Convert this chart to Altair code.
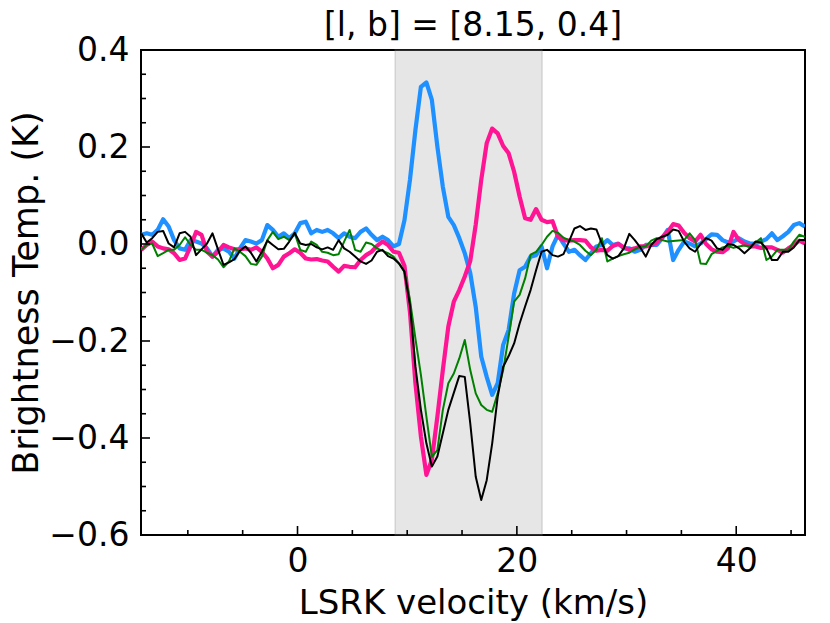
import altair as alt
import pandas as pd

# ---------------- data ----------------
velocity = [-14.25, -13.75, -13.25, -12.75, -12.25, -11.75, -11.25, -10.75, -10.25, -9.75,
            -9.25, -8.75, -8.25, -7.75, -7.25, -6.75, -6.25, -5.75, -5.25, -4.75,
            -4.25, -3.75, -3.25, -2.75, -2.25, -1.75, -1.25, -0.75, -0.25, 0.25,
            0.75, 1.25, 1.75, 2.25, 2.75, 3.25, 3.75, 4.25, 4.75, 5.25,
            5.75, 6.25, 6.75, 7.25, 7.75, 8.25, 8.75, 9.25, 9.75, 10.25,
            10.75, 11.25, 11.75, 12.25, 12.75, 13.25, 13.75, 14.25, 14.75, 15.25,
            15.75, 16.25, 16.75, 17.25, 17.75, 18.25, 18.75, 19.25, 19.75, 20.25,
            20.75, 21.25, 21.75, 22.25, 22.75, 23.25, 23.75, 24.25, 24.75, 25.25,
            25.75, 26.25, 26.75, 27.25, 27.75, 28.25, 28.75, 29.25, 29.75, 30.25,
            30.75, 31.25, 31.75, 32.25, 32.75, 33.25, 33.75, 34.25, 34.75, 35.25,
            35.75, 36.25, 36.75, 37.25, 37.75, 38.25, 38.75, 39.25, 39.75, 40.25,
            40.75, 41.25, 41.75, 42.25, 42.75, 43.25, 43.75, 44.25, 44.75, 45.25,
            45.75, 46.25]

blue = [0.019, 0.022, 0.019, 0.029, 0.051, 0.036, 0.008, -0.009, -0.012, 0.008,
        0.005, 0.001, -0.009, -0.026, -0.012, -0.009, -0.016, -0.030, -0.009, 0.008,
        0.005, 0.001, 0.008, 0.039, 0.029, 0.015, 0.022, 0.012, 0.022, 0.043,
        0.046, 0.022, 0.029, 0.025, 0.029, 0.022, 0.012, 0.022, 0.015, 0.012,
        0.025, 0.032, 0.019, 0.008, 0.015, 0.008, -0.005,
        0.000, 0.049, 0.132, 0.235, 0.324, 0.333, 0.297, 0.201, 0.118, 0.056,
        0.039, 0.012, -0.019, -0.060, -0.130, -0.232, -0.274, -0.311, -0.287, -0.208,
        -0.177, -0.102, -0.054, -0.047, -0.026, -0.023, -0.005, -0.050, -0.005, 0.019,
        0.001, -0.016, -0.012, -0.023, -0.033, -0.019, -0.005, -0.002, 0.008, -0.002,
        0.001, -0.009, -0.009, -0.016, -0.012, -0.002, -0.002, -0.002, 0.012, 0.029,
        -0.033, -0.012, 0.005, 0.001, -0.005, 0.001, 0.010, 0.020, 0.019, 0.008,
        0.003, 0.005, 0.012, 0.005, 0.001, 0.001, 0.005, 0.010, 0.022, 0.008,
        0.016, 0.025, 0.039, 0.043, 0.036]

pink = [-0.012, -0.002, 0.005, -0.005, -0.009, -0.011, -0.019, -0.033, -0.030, -0.005,
        0.025, 0.019, -0.016, -0.026, -0.016, -0.002, -0.007, -0.011, -0.011, -0.009,
        -0.012, -0.007, -0.016, -0.030, -0.050, -0.043, -0.026, -0.019, -0.011, -0.018,
        -0.030, -0.032, -0.031, -0.034, -0.036, -0.047, -0.057, -0.045, -0.047, -0.048,
        -0.033, -0.023, -0.016, -0.004, 0.005, -0.002, -0.016,
        -0.018, -0.045, -0.140, -0.287, -0.397, -0.476, -0.445, -0.356, -0.260, -0.170,
        -0.119, -0.095, -0.067, -0.035, 0.040, 0.132, 0.208, 0.238, 0.228, 0.202,
        0.187, 0.149, 0.098, 0.053, 0.050, 0.072, 0.050, 0.045, 0.047, 0.015,
        0.008, 0.007, 0.008, 0.008, 0.007, -0.007, -0.014, -0.012, -0.014, -0.004,
        0.000, -0.007, -0.012, -0.009, -0.005, -0.005, -0.002, 0.003, 0.014, 0.025,
        0.041, 0.038, 0.023, 0.012, 0.005, 0.019, 0.000, -0.011, -0.016, -0.017,
        -0.009, 0.025, 0.008, 0.000, -0.005, -0.005, -0.008, -0.007, -0.007, -0.012,
        -0.018, -0.009, -0.002, 0.007, 0.001]

green = [-0.012, -0.002, 0.001, -0.025, -0.019, -0.012, -0.012, -0.002, 0.014, -0.002,
         -0.012, -0.012, -0.018, -0.023, -0.032, -0.048, -0.036, -0.009, -0.016, -0.025,
         -0.041, -0.043, -0.026, 0.008, 0.025, 0.010, 0.015, 0.008, 0.022, -0.012,
         -0.016, 0.005, -0.002, -0.016, -0.018, -0.023, -0.021, 0.005, 0.029, -0.012,
         -0.016, 0.003, 0.000, -0.009, -0.014, -0.019, -0.026,
         -0.040, -0.057, -0.115, -0.195, -0.270, -0.356, -0.439, -0.425, -0.342, -0.287,
         -0.267, -0.236, -0.198, -0.260, -0.308, -0.332, -0.342, -0.346, -0.308, -0.260,
         -0.191, -0.119, -0.105, -0.071, -0.022, -0.016, -0.002, 0.015, 0.027, 0.023,
         0.013, 0.008, 0.005, -0.002, -0.014, -0.023, -0.012, 0.012, -0.036, -0.030,
         -0.025, -0.021, -0.018, -0.011, -0.005, -0.005, 0.007, 0.012, 0.008, 0.005,
         0.006, 0.007, 0.008, 0.022, 0.008, -0.040, -0.041, -0.021, -0.014, -0.007,
         -0.004, -0.008, -0.005, -0.003, -0.005, 0.003, 0.012, -0.033, -0.026, -0.012,
         -0.012, -0.012, 0.005, 0.019, 0.015]

black = [0.022, 0.003, 0.012, 0.025, 0.027, 0.001, -0.007, 0.022, 0.025, 0.015,
         -0.023, -0.011, 0.001, 0.022, -0.011, -0.043, -0.038, -0.031, -0.014, -0.005,
         -0.018, -0.036, -0.016, 0.007, -0.002, -0.011, -0.010, 0.005, 0.023, 0.001,
         -0.002, 0.000, -0.007, -0.011, -0.007, -0.012, 0.008, -0.009, -0.016, -0.026,
         -0.036, -0.041, -0.034, -0.016, -0.012, -0.025, -0.030,
         -0.040, -0.057, -0.126, -0.253, -0.342, -0.411, -0.459, -0.438, -0.390, -0.342,
         -0.307, -0.272, -0.274, -0.370, -0.480, -0.528, -0.487, -0.411, -0.315, -0.253,
         -0.231, -0.205, -0.164, -0.129, -0.095, -0.054, -0.016, -0.012, -0.023, -0.026,
         -0.021, 0.005, 0.032, 0.037, 0.029, 0.032, 0.030, 0.001, -0.023, -0.030,
         -0.025, -0.009, 0.021, 0.008, -0.007, -0.026, -0.002, 0.010, 0.015, 0.019,
         0.030, 0.027, 0.005, -0.009, -0.016, 0.000, 0.012, 0.007, -0.009, -0.012,
         0.000, -0.002, -0.009, -0.019, -0.009, 0.005, 0.003, -0.009, -0.033, -0.033,
         -0.016, -0.016, -0.007, 0.008, 0.008]

band = [8.9, 22.3]                    # shaded velocity window (km/s)
x_major = [0, 20, 40]
x_minor = [-10, -5, 5, 10, 15, 25, 30, 35, 45]
y_major = [-0.6, -0.4, -0.2, 0.0, 0.2, 0.4]
y_minor = [-0.55, -0.5, -0.45, -0.35, -0.3, -0.25, -0.15, -0.1, -0.05,
           0.05, 0.1, 0.15, 0.25, 0.3, 0.35]

series = [("blue", blue, "#1E90FF", 4.2),
          ("pink", pink, "#FF1493", 4.2),
          ("green", green, "#008000", 2.0),
          ("black", black, "#000000", 2.0)]

# ---------------- chart ----------------
W, H = 664, 485
FONT = "DejaVu Sans"
xscale = alt.Scale(domain=[-14.27, 46.27], nice=False, zero=False)
yscale = alt.Scale(domain=[-0.6, 0.4], nice=False, zero=False)
xaxis = alt.Axis(values=x_major, format="d", title="LSRK velocity (km/s)",
                 labelPadding=10, titlePadding=8, titleFontSize=34)
yaxis = alt.Axis(values=y_major, format=".1f", title="Brightness Temp. (K)",
                 labelPadding=12, titlePadding=4, titleFontSize=35)

band_df = pd.DataFrame({"x1": [band[0]], "x2": [band[1]]})
shade = alt.Chart(band_df).mark_rect(
    fill="gray", fillOpacity=0.2, stroke="gray", strokeOpacity=0.25, strokeWidth=1.5
).encode(
    x=alt.X("x1:Q", scale=xscale, axis=xaxis),
    x2="x2:Q",
    y=alt.value(0), y2=alt.value(H),
)

layers = [shade]
for name, vals, col, sw in series:
    df = pd.DataFrame({"v": velocity, "t": vals})
    layers.append(
        alt.Chart(df).mark_line(color=col, strokeWidth=sw, clip=True,
                                strokeJoin="round").encode(
            x=alt.X("v:Q", scale=xscale, axis=xaxis),
            y=alt.Y("t:Q", scale=yscale, axis=yaxis))
    )

# inward ticks
def xticks(vals, length):
    return alt.Chart(pd.DataFrame({"xt": vals})).mark_rule(
        color="black", strokeWidth=1.6).encode(
        x=alt.X("xt:Q", scale=xscale, axis=xaxis),
        y=alt.value(H), y2=alt.value(H - length))

def yticks(vals, length):
    return alt.Chart(pd.DataFrame({"yt": vals})).mark_rule(
        color="black", strokeWidth=1.6).encode(
        y=alt.Y("yt:Q", scale=yscale, axis=yaxis),
        x=alt.value(0), x2=alt.value(length))

layers += [xticks(x_major, 9), xticks(x_minor, 5), yticks(y_major, 9), yticks(y_minor, 5)]

chart = alt.layer(*layers).properties(
    width=W, height=H,
    title=alt.TitleParams("[l, b] = [8.15, 0.4]", font=FONT, fontSize=33,
                          fontWeight="normal", color="black", frame="group",
                          offset=-9, anchor="middle"),
    padding={"left": 133, "top": 42, "right": 10, "bottom": 86},
    autosize="none",
).configure_axis(
    domain=False, ticks=False, grid=False,
    labelFont=FONT, labelFontSize=33, labelColor="black",
    titleFont=FONT, titleFontWeight="normal", titleColor="black",
).configure_view(stroke="black", strokeWidth=2)

chart.save("out.html", embed_options={"renderer": "svg", "actions": False})
